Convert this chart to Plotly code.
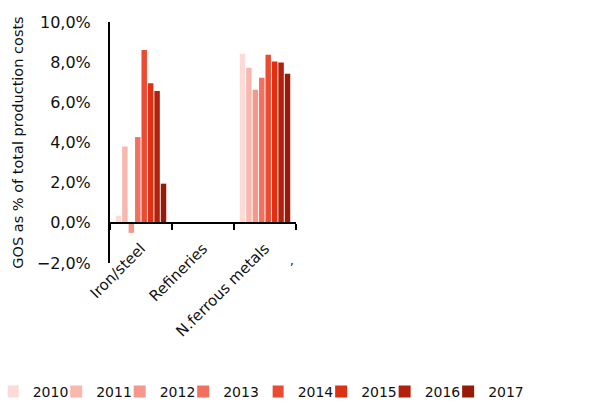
import plotly.graph_objects as go

# data (GOS as share of total production costs)
categories = ["Iron/steel", "Refineries", "N.ferrous metals"]
years = ["2010", "2011", "2012", "2013", "2014", "2015", "2016", "2017"]
iron_steel = [0.0035, 0.038, -0.005, 0.0427, 0.086, 0.0695, 0.0657, 0.0195]
refineries = [None, None, None, None, None, None, None, None]
n_ferrous = [0.0842, 0.0772, 0.0663, 0.0722, 0.0837, 0.0803, 0.0798, 0.0742]

colors = ["#FCDAD6", "#F9B8AE", "#F5978A", "#F1705E", "#EC4B33",
          "#DE3012", "#B3210E", "#981B0A"]

fig = go.Figure()
for i, yr in enumerate(years):
    fig.add_trace(go.Bar(
        x=categories,
        y=[iron_steel[i], refineries[i], n_ferrous[i]],
        name=yr,
        marker=dict(color=colors[i], line=dict(width=0)),
        # first four years in one legend, the rest in a second one
        legend="legend" if i < 4 else "legend2",
    ))

font = "DejaVu Sans, Verdana, sans-serif"
leg = dict(orientation="h", font=dict(size=14, color="#111111"), entrywidth=33.5,
           indentation=-15, itemwidth=30, traceorder="normal",
           y=-0.535, yanchor="middle")
fig.update_layout(
    width=603, height=411,
    template="plotly_white",
    plot_bgcolor="white", paper_bgcolor="white",
    barmode="group", bargap=0.17, bargroupgap=0.15,
    separators=",.",
    font=dict(family=font, size=15, color="#111111"),
    margin=dict(l=110, r=307, t=22, b=148, autoexpand=False),
    showlegend=True,
    legend=dict(leg, x=-0.55, xanchor="left"),
    legend2=dict(leg, x=2.24, xanchor="right"),
)

fig.update_yaxes(
    range=[-0.02, 0.10], dtick=0.02, tickformat=".1%",
    showgrid=False, zeroline=False, ticks="",
    showline=True, linecolor="black", linewidth=2,
    tickfont=dict(size=16), ticklabelstandoff=14,
    title=dict(text="GOS as % of total production costs", font=dict(size=14.5),
               standoff=10),
)
fig.update_xaxes(
    anchor="free", position=1 / 6,
    showgrid=False, showline=True, linecolor="black", linewidth=2,
    ticks="outside", tickson="boundaries", ticklen=6, tickwidth=2,
    tickcolor="black", tickangle=-45, ticklabelstandoff=10,
    tickfont=dict(size=15),
)

fig.add_annotation(text=",", xref="paper", yref="paper", x=1.0, y=-0.03,
                   showarrow=False, font=dict(size=12))

fig.write_html("out.html", config={"displayModeBar": False},
               post_script="document.body.style.margin='0';")
